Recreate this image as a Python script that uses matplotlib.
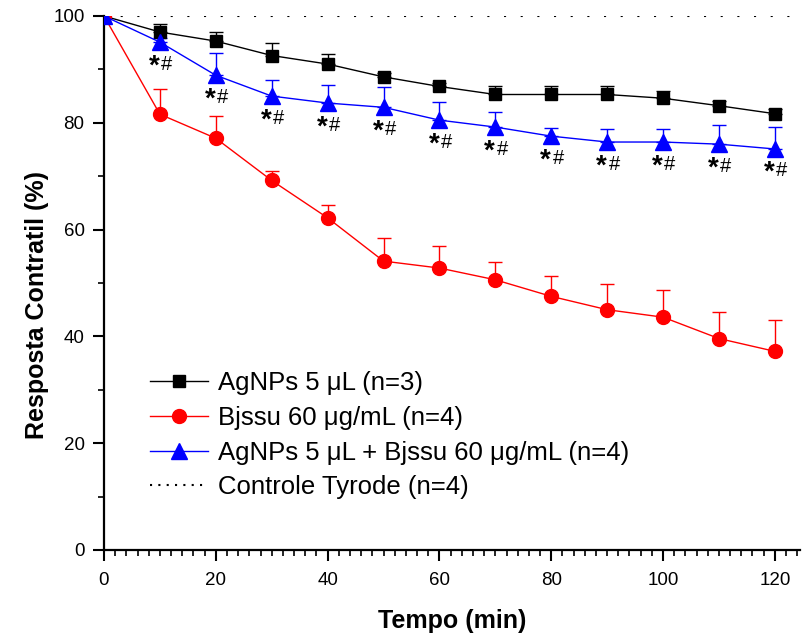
import matplotlib
matplotlib.use('Agg')
import matplotlib.pyplot as plt
from matplotlib.lines import Line2D
from matplotlib.ticker import MultipleLocator
import numpy as np

plt.rcParams['font.family'] = ['Liberation Sans', 'DejaVu Sans']

# data
tempo = [0, 10, 20, 30, 40, 50, 60, 70, 80, 90, 100, 110, 120]
agnps = [100, 97.0, 95.3, 92.6, 91.0, 88.6, 86.8, 85.3, 85.3, 85.3, 84.6, 83.2, 81.7]
agnps_err = [0, 1.5, 1.7, 2.3, 1.8, 0.8, 0.6, 1.5, 1.5, 1.5, 1.3, 0.8, 0.8]
bjssu = [100, 81.6, 77.1, 69.2, 62.2, 54.1, 52.8, 50.6, 47.5, 45.0, 43.6, 39.6, 37.2]
bjssu_err = [0, 4.7, 4.2, 1.8, 2.5, 4.3, 4.2, 3.3, 3.8, 4.8, 5.0, 5.0, 5.9]
combo = [100, 95.1, 88.9, 85.0, 83.7, 82.9, 80.5, 79.2, 77.5, 76.4, 76.4, 76.0, 75.1]
combo_err = [0, 0.8, 4.1, 3.0, 3.4, 3.8, 3.4, 2.8, 1.5, 2.4, 2.4, 3.6, 4.1]
controle_t = [0, 125]
controle = [100, 100]
signif_t = [10, 20, 30, 40, 50, 60, 70, 80, 90, 100, 110, 120]

labels = ['AgNPs 5 \u03bcL (n=3)', 'Bjssu 60 \u03bcg/mL (n=4)',
          'AgNPs 5 \u03bcL + Bjssu 60 \u03bcg/mL (n=4)', 'Controle Tyrode (n=4)']

fig = plt.figure(figsize=(8.04, 6.34), dpi=100)
ax = fig.add_axes([104 / 804, 84 / 634, 696 / 804, 534 / 634])

ax.plot(controle_t, controle, color='black', lw=1.5, ls=(0, (1, 7)), zorder=1)

series = [
    (agnps, agnps_err, 'black', 's', 8.5),
    (bjssu, bjssu_err, 'red', 'o', 10),
    (combo, combo_err, 'blue', '^', 11),
]
handles = []
for vals, err, col, mk, ms in series:
    lo = np.zeros(len(err))
    ax.errorbar(tempo, vals, yerr=[lo, err], color=col, lw=1, elinewidth=1,
                capsize=5, capthick=1, marker=mk, markersize=ms, zorder=3)
    handles.append(Line2D([], [], color=col, lw=1, marker=mk, markersize=ms))
handles.append(Line2D([], [], color='black', lw=1.5, ls=(0, (1, 3))))

for t in signif_t:
    y = combo[tempo.index(t)]
    ax.annotate('*', (t, y), xytext=(-4, -8), textcoords='offset points',
                ha='center', va='top', fontsize=20, fontweight='bold')
    ax.annotate('#', (t, y), xytext=(5, -9), textcoords='offset points',
                ha='center', va='top', fontsize=14.5)

ax.set_xlim(0, 124.5)
ax.set_ylim(0, 100)
ax.xaxis.set_major_locator(MultipleLocator(20))
ax.xaxis.set_minor_locator(MultipleLocator(2))
ax.yaxis.set_major_locator(MultipleLocator(20))
ax.yaxis.set_minor_locator(MultipleLocator(10))
for s in ['top', 'right']:
    ax.spines[s].set_visible(False)
for s in ['left', 'bottom']:
    ax.spines[s].set_linewidth(1.6)
ax.tick_params(which='major', length=8, width=1.5, labelsize=13.5, direction='out')
ax.tick_params(which='minor', length=4, width=1.2, direction='out')
ax.tick_params(axis='x', which='major', pad=8)
ax.tick_params(axis='y', which='major', pad=6)

ax.set_xlabel('Tempo (min)', fontsize=18, fontweight='bold', labelpad=14)
ax.set_ylabel('Resposta Contratil (%)', fontsize=18, fontweight='bold', labelpad=3)
ax.yaxis.label.set_y(0.459)

ax.legend(handles, labels, loc='upper left', bbox_to_anchor=(150 / 804, 1 - 371 / 634),
          bbox_transform=fig.transFigure, frameon=False, fontsize=18.5,
          handlelength=2.25, handletextpad=0.4, labelspacing=0.42,
          borderpad=0, borderaxespad=0)

fig.savefig('out.png', dpi=100)
